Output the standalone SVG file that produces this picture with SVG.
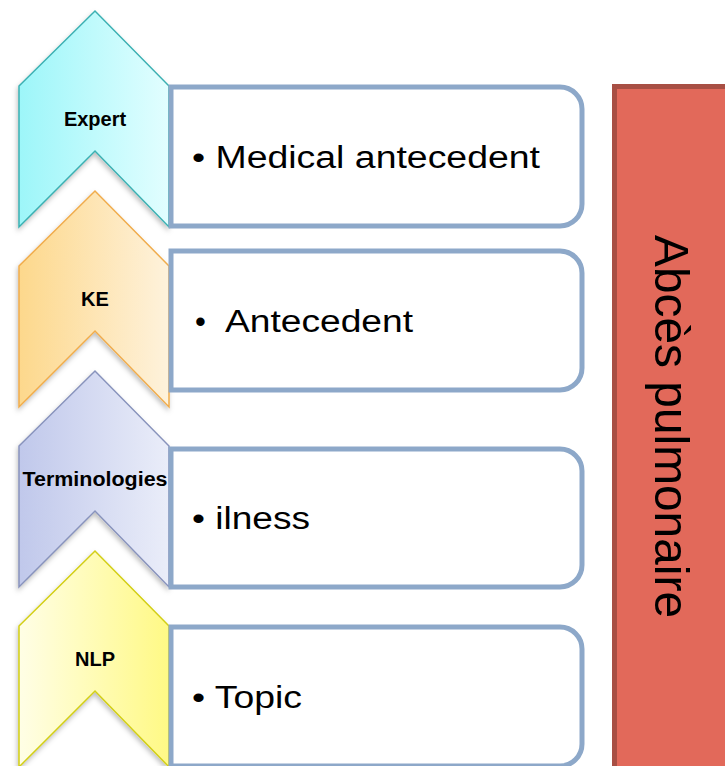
<svg xmlns="http://www.w3.org/2000/svg" width="725" height="766" viewBox="0 0 725 766">
  <defs>
    <linearGradient id="gExpert" x1="0" y1="0" x2="1" y2="0">
      <stop offset="0" stop-color="#9DF6F9"/>
      <stop offset="1" stop-color="#E2FEFF"/>
    </linearGradient>
    <linearGradient id="gKE" x1="0" y1="0" x2="1" y2="0">
      <stop offset="0" stop-color="#FDD88C"/>
      <stop offset="1" stop-color="#FEF2DC"/>
    </linearGradient>
    <linearGradient id="gTerm" x1="0" y1="0" x2="1" y2="0">
      <stop offset="0" stop-color="#C0C8EB"/>
      <stop offset="1" stop-color="#EAEDF9"/>
    </linearGradient>
    <linearGradient id="gNLP" x1="0" y1="0" x2="1" y2="0">
      <stop offset="0" stop-color="#FFFEE6"/>
      <stop offset="1" stop-color="#FFF985"/>
    </linearGradient>
    <filter id="shadow" x="-20%" y="-10%" width="140%" height="130%">
      <feDropShadow dx="-1" dy="3" stdDeviation="2.5" flood-color="#000" flood-opacity="0.25"/>
    </filter>
    <!-- chevron outline, pointing up -->
    <path id="chev" d="M19,86 L95,11 L169,86 L169,227 L95,151 L19,227 Z"/>
  </defs>
  <style>
    .chev { stroke-width: 1.5; stroke-linejoin: miter; filter: url(#shadow); }
    .label { font-family: "Liberation Sans", Arial, sans-serif; font-weight: bold; font-size: 20px; fill: #000; text-anchor: middle; }
    .box { fill: #FFFFFF; stroke: #8DA8C9; stroke-width: 5; }
    .item { font-family: "Liberation Sans", Arial, sans-serif; font-size: 31px; fill: #000; }
    .side { fill: #E2695A; stroke: #A84F44; stroke-width: 5; }
    .sideText { font-family: "Liberation Sans", Arial, sans-serif; font-size: 49px; fill: #000; }
  </style>

  <g id="expert">
    <use href="#chev" class="chev" fill="url(#gExpert)" stroke="#3BB0B2"/>
    <text class="label" x="95" y="126">Expert</text>
  </g>
  <g id="ke">
    <use href="#chev" class="chev" transform="translate(0,180)" fill="url(#gKE)" stroke="#F0AC4C"/>
    <text class="label" x="95" y="306">KE</text>
  </g>
  <g id="terminologies">
    <use href="#chev" class="chev" transform="translate(0,360)" fill="url(#gTerm)" stroke="#8893BC"/>
    <text class="label" x="95" y="486" textLength="145" lengthAdjust="spacingAndGlyphs">Terminologies</text>
  </g>
  <g id="nlp">
    <use href="#chev" class="chev" transform="translate(0,540)" fill="url(#gNLP)" stroke="#D2CE12"/>
    <text class="label" x="95" y="666">NLP</text>
  </g>

  <g id="box-medical">
    <path class="box" d="M171,87 H560 A22,22 0 0 1 582,109 V204 A22,22 0 0 1 560,226 H171 Z"/>
    <text class="item" x="192" y="168" textLength="348" lengthAdjust="spacingAndGlyphs">• Medical antecedent</text>
  </g>
  <g id="box-antecedent">
    <path class="box" d="M171,251 H560 A22,22 0 0 1 582,273 V368 A22,22 0 0 1 560,390 H171 Z"/>
    <text class="item" x="195" y="332">•</text>
    <text class="item" x="225" y="332" textLength="188" lengthAdjust="spacingAndGlyphs">Antecedent</text>
  </g>
  <g id="box-ilness">
    <path class="box" d="M171,449 H560 A22,22 0 0 1 582,471 V565 A22,22 0 0 1 560,587 H171 Z"/>
    <text class="item" x="192" y="529" textLength="118" lengthAdjust="spacingAndGlyphs">• ilness</text>
  </g>
  <g id="box-topic">
    <path class="box" d="M171,627 H560 A22,22 0 0 1 582,649 V744 A22,22 0 0 1 560,766 H171 Z"/>
    <text class="item" x="192" y="708" textLength="110" lengthAdjust="spacingAndGlyphs">• Topic</text>
  </g>

  <g id="abces">
    <rect class="side" x="614.5" y="86.5" width="150" height="700"/>
    <text class="sideText" transform="translate(655,235) rotate(90)" textLength="383" lengthAdjust="spacingAndGlyphs">Abcès pulmonaire</text>
  </g>

  <g id="connectors"/>
</svg>
